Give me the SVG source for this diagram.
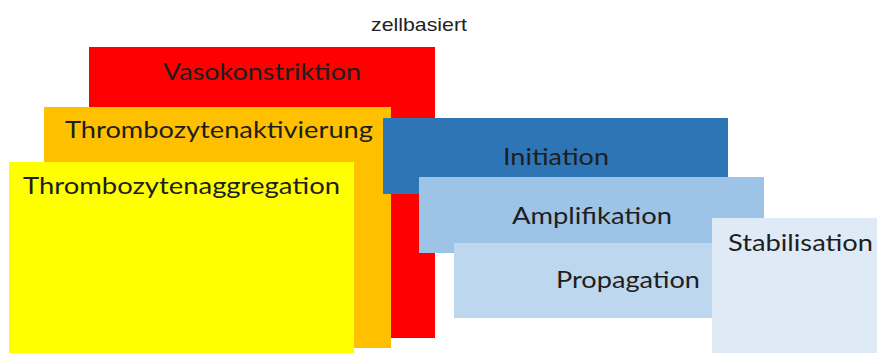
<svg xmlns="http://www.w3.org/2000/svg" width="877" height="353" viewBox="0 0 877 353">
<style>
.lbl{font-family:Lato,"Open Sans","Liberation Sans",sans-serif;font-size:24px;fill:#1e1e1e}
.top{font-family:"Liberation Sans",Arial,sans-serif;font-size:19px;fill:#222}
</style>
<rect width="877" height="353" fill="#fff"/>
<text class="top" x="371" y="31" textLength="96" lengthAdjust="spacingAndGlyphs">zellbasiert</text>
<g id="vasokonstriktion">
<rect x="89" y="47" width="346" height="291" fill="#FF0000"/>
<text class="lbl" x="163" y="80" textLength="198" lengthAdjust="spacingAndGlyphs">Vasokonstriktion</text>
</g>
<g id="thrombozytenaktivierung">
<rect x="44" y="107" width="347" height="241" fill="#FFC000"/>
<text class="lbl" x="65" y="138" textLength="308" lengthAdjust="spacingAndGlyphs">Thrombozytenaktivierung</text>
</g>
<g id="thrombozytenaggregation">
<rect x="9" y="162" width="345" height="191" fill="#FFFF00"/>
<text class="lbl" x="23" y="194" textLength="317" lengthAdjust="spacingAndGlyphs">Thrombozytenaggregation</text>
</g>
<g id="initiation">
<rect x="383" y="118" width="345" height="76" fill="#2E75B6"/>
<text class="lbl" x="503" y="165" textLength="106" lengthAdjust="spacingAndGlyphs">Initiation</text>
</g>
<g id="amplifikation">
<rect x="419" y="177" width="345" height="76" fill="#9DC3E6"/>
<text class="lbl" x="512" y="224" textLength="160" lengthAdjust="spacingAndGlyphs">Amplifikation</text>
</g>
<g id="propagation">
<rect x="454" y="243" width="300" height="75" fill="#BDD7EE"/>
<text class="lbl" x="556" y="288" textLength="144" lengthAdjust="spacingAndGlyphs">Propagation</text>
</g>
<g id="stabilisation">
<rect x="712" y="218" width="165" height="135" fill="#DEEBF7"/>
<text class="lbl" x="728" y="251" textLength="145" lengthAdjust="spacingAndGlyphs">Stabilisation</text>
</g>
<g id="connectors"></g>
</svg>
